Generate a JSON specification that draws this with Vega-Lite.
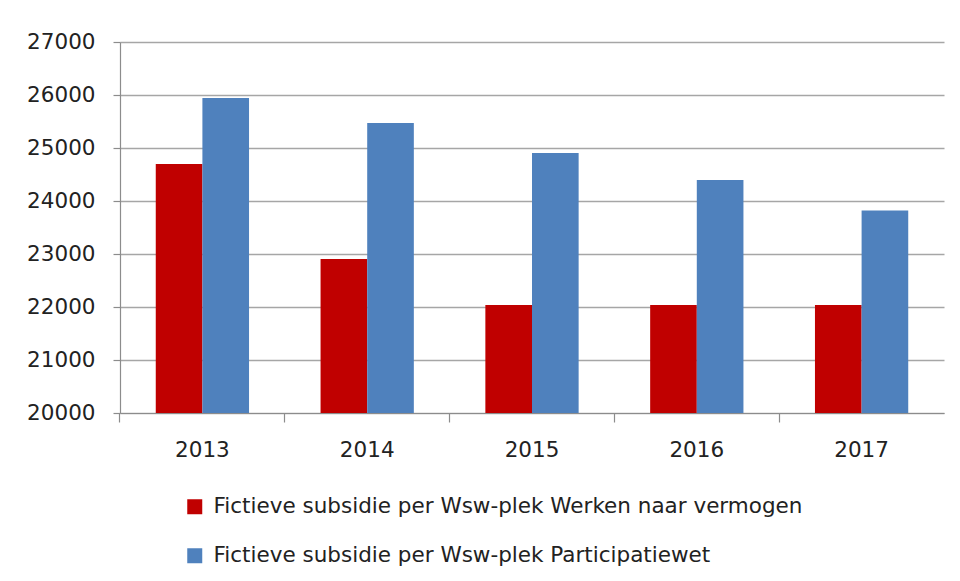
{
  "$schema": "https://vega.github.io/schema/vega-lite/v6.json",
  "autosize": "none",
  "width": 824,
  "height": 371,
  "padding": {"left": 120, "top": 42, "right": 16, "bottom": 168},
  "background": "white",
  "config": {
    "view": {"stroke": null},
    "font": "DejaVu Sans"
  },
  "data": {
    "values": [
      {"jaar": "2013", "reeks": "Fictieve subsidie per Wsw-plek Werken naar vermogen", "waarde": 24700},
      {"jaar": "2013", "reeks": "Fictieve subsidie per Wsw-plek Participatiewet", "waarde": 25943},
      {"jaar": "2014", "reeks": "Fictieve subsidie per Wsw-plek Werken naar vermogen", "waarde": 22906},
      {"jaar": "2014", "reeks": "Fictieve subsidie per Wsw-plek Participatiewet", "waarde": 25470},
      {"jaar": "2015", "reeks": "Fictieve subsidie per Wsw-plek Werken naar vermogen", "waarde": 22040},
      {"jaar": "2015", "reeks": "Fictieve subsidie per Wsw-plek Participatiewet", "waarde": 24906},
      {"jaar": "2016", "reeks": "Fictieve subsidie per Wsw-plek Werken naar vermogen", "waarde": 22040},
      {"jaar": "2016", "reeks": "Fictieve subsidie per Wsw-plek Participatiewet", "waarde": 24396},
      {"jaar": "2017", "reeks": "Fictieve subsidie per Wsw-plek Werken naar vermogen", "waarde": 22040},
      {"jaar": "2017", "reeks": "Fictieve subsidie per Wsw-plek Participatiewet", "waarde": 23823}
    ]
  },
  "mark": {"type": "bar"},
  "encoding": {
    "x": {
      "field": "jaar",
      "type": "nominal",
      "scale": {"paddingInner": 0.434, "paddingOuter": 0.217},
      "axis": {
        "title": null,
        "labelAngle": 0,
        "labelFontSize": 21.5,
        "labelColor": "#222222",
        "labelPadding": 17,
        "domainColor": "#8c8c8c",
        "domainWidth": 1.2,
        "tickColor": "#8c8c8c",
        "tickSize": 9,
        "tickWidth": 1.2,
        "bandPosition": -0.384,
        "grid": false
      }
    },
    "xOffset": {
      "field": "reeks",
      "type": "nominal",
      "sort": ["Fictieve subsidie per Wsw-plek Werken naar vermogen", "Fictieve subsidie per Wsw-plek Participatiewet"]
    },
    "y": {
      "field": "waarde",
      "type": "quantitative",
      "scale": {"domain": [20000, 27000], "zero": false, "nice": false},
      "axis": {
        "title": null,
        "values": [20000, 21000, 22000, 23000, 24000, 25000, 26000, 27000],
        "format": "d",
        "labelFontSize": 21.5,
        "labelColor": "#222222",
        "labelPadding": 18,
        "tickSize": 7,
        "tickColor": "#8c8c8c",
        "tickWidth": 1.2,
        "domainColor": "#8c8c8c",
        "domainWidth": 1.2,
        "grid": true,
        "gridColor": "#a6a6a6",
        "gridWidth": 1.5
      }
    },
    "y2": {"datum": 20000},
    "color": {
      "field": "reeks",
      "type": "nominal",
      "sort": ["Fictieve subsidie per Wsw-plek Werken naar vermogen", "Fictieve subsidie per Wsw-plek Participatiewet"],
      "scale": {"range": ["#C00000", "#4F81BD"]},
      "legend": {
        "title": null,
        "orient": "none",
        "legendX": 64,
        "legendY": 454,
        "direction": "vertical",
        "symbolType": "square",
        "symbolSize": 225,
        "symbolStrokeWidth": 0,
        "labelFontSize": 21.5,
        "labelColor": "#222222",
        "labelLimit": 800,
        "labelOffset": 8,
        "rowPadding": 26
      }
    }
  }
}
